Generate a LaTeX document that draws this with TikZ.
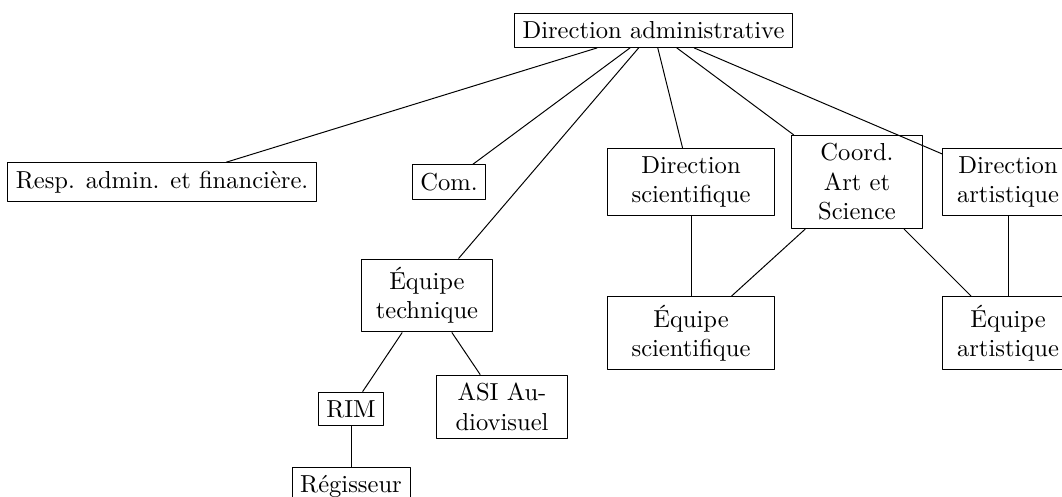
\documentclass[tikz,border=0pt]{standalone}
\usetikzlibrary{positioning}
\tikzset{box/.style={draw, anchor=center}}
\tikzset{wide/.style={box, align=center, text width=61.7pt}}
\tikzset{narrow/.style={box, align=center, text width=46.3pt}}

\begin{document}
\begin{tikzpicture}[line join = round]

\useasboundingbox (0,-7.113) rectangle (15.2,0);

\node[box] (diradm) at (9.353,-0.437) {Direction administrative};

\node[box] (resp) at (2.319,-2.605) {Resp. admin. et financière.};
\node[box] (com) at (6.426,-2.605) {Com.};
\node[wide] (dirsci) at (9.890,-2.605) {Direction\\scientifique};
\node[narrow] (coord) at (12.266,-2.605) {Coord.\\Art et\\Science};
\node[narrow] (dirart) at (14.427,-2.605) {Direction\\artistique};

\node[narrow] (eqtech) at (6.111,-4.229) {Équipe\\technique};
\node[wide] (eqsci) at (9.890,-4.766) {Équipe\\scientifique};
\node[narrow] (eqart) at (14.427,-4.766) {Équipe\\artistique};

\node[box] (rim) at (5.024,-5.854) {RIM};
\node[narrow] (asi) at (7.185,-5.825) {ASI Au-\\diovisuel};
\node[box] (regis) at (5.024,-6.96) {Régisseur};

\draw (diradm) -- (resp);
\draw (diradm) -- (com);
\draw (diradm) -- (eqtech);
\draw (diradm) -- (dirsci);
\draw (diradm) -- (coord);
\draw (diradm) -- (dirart);

\draw (dirsci) -- (eqsci);
\draw (coord) -- (eqsci);
\draw (coord) -- (eqart);
\draw (dirart) -- (eqart);

\draw (eqtech) -- (rim);
\draw (eqtech) -- (asi);
\draw (rim) -- (regis);

\end{tikzpicture}
\end{document}
